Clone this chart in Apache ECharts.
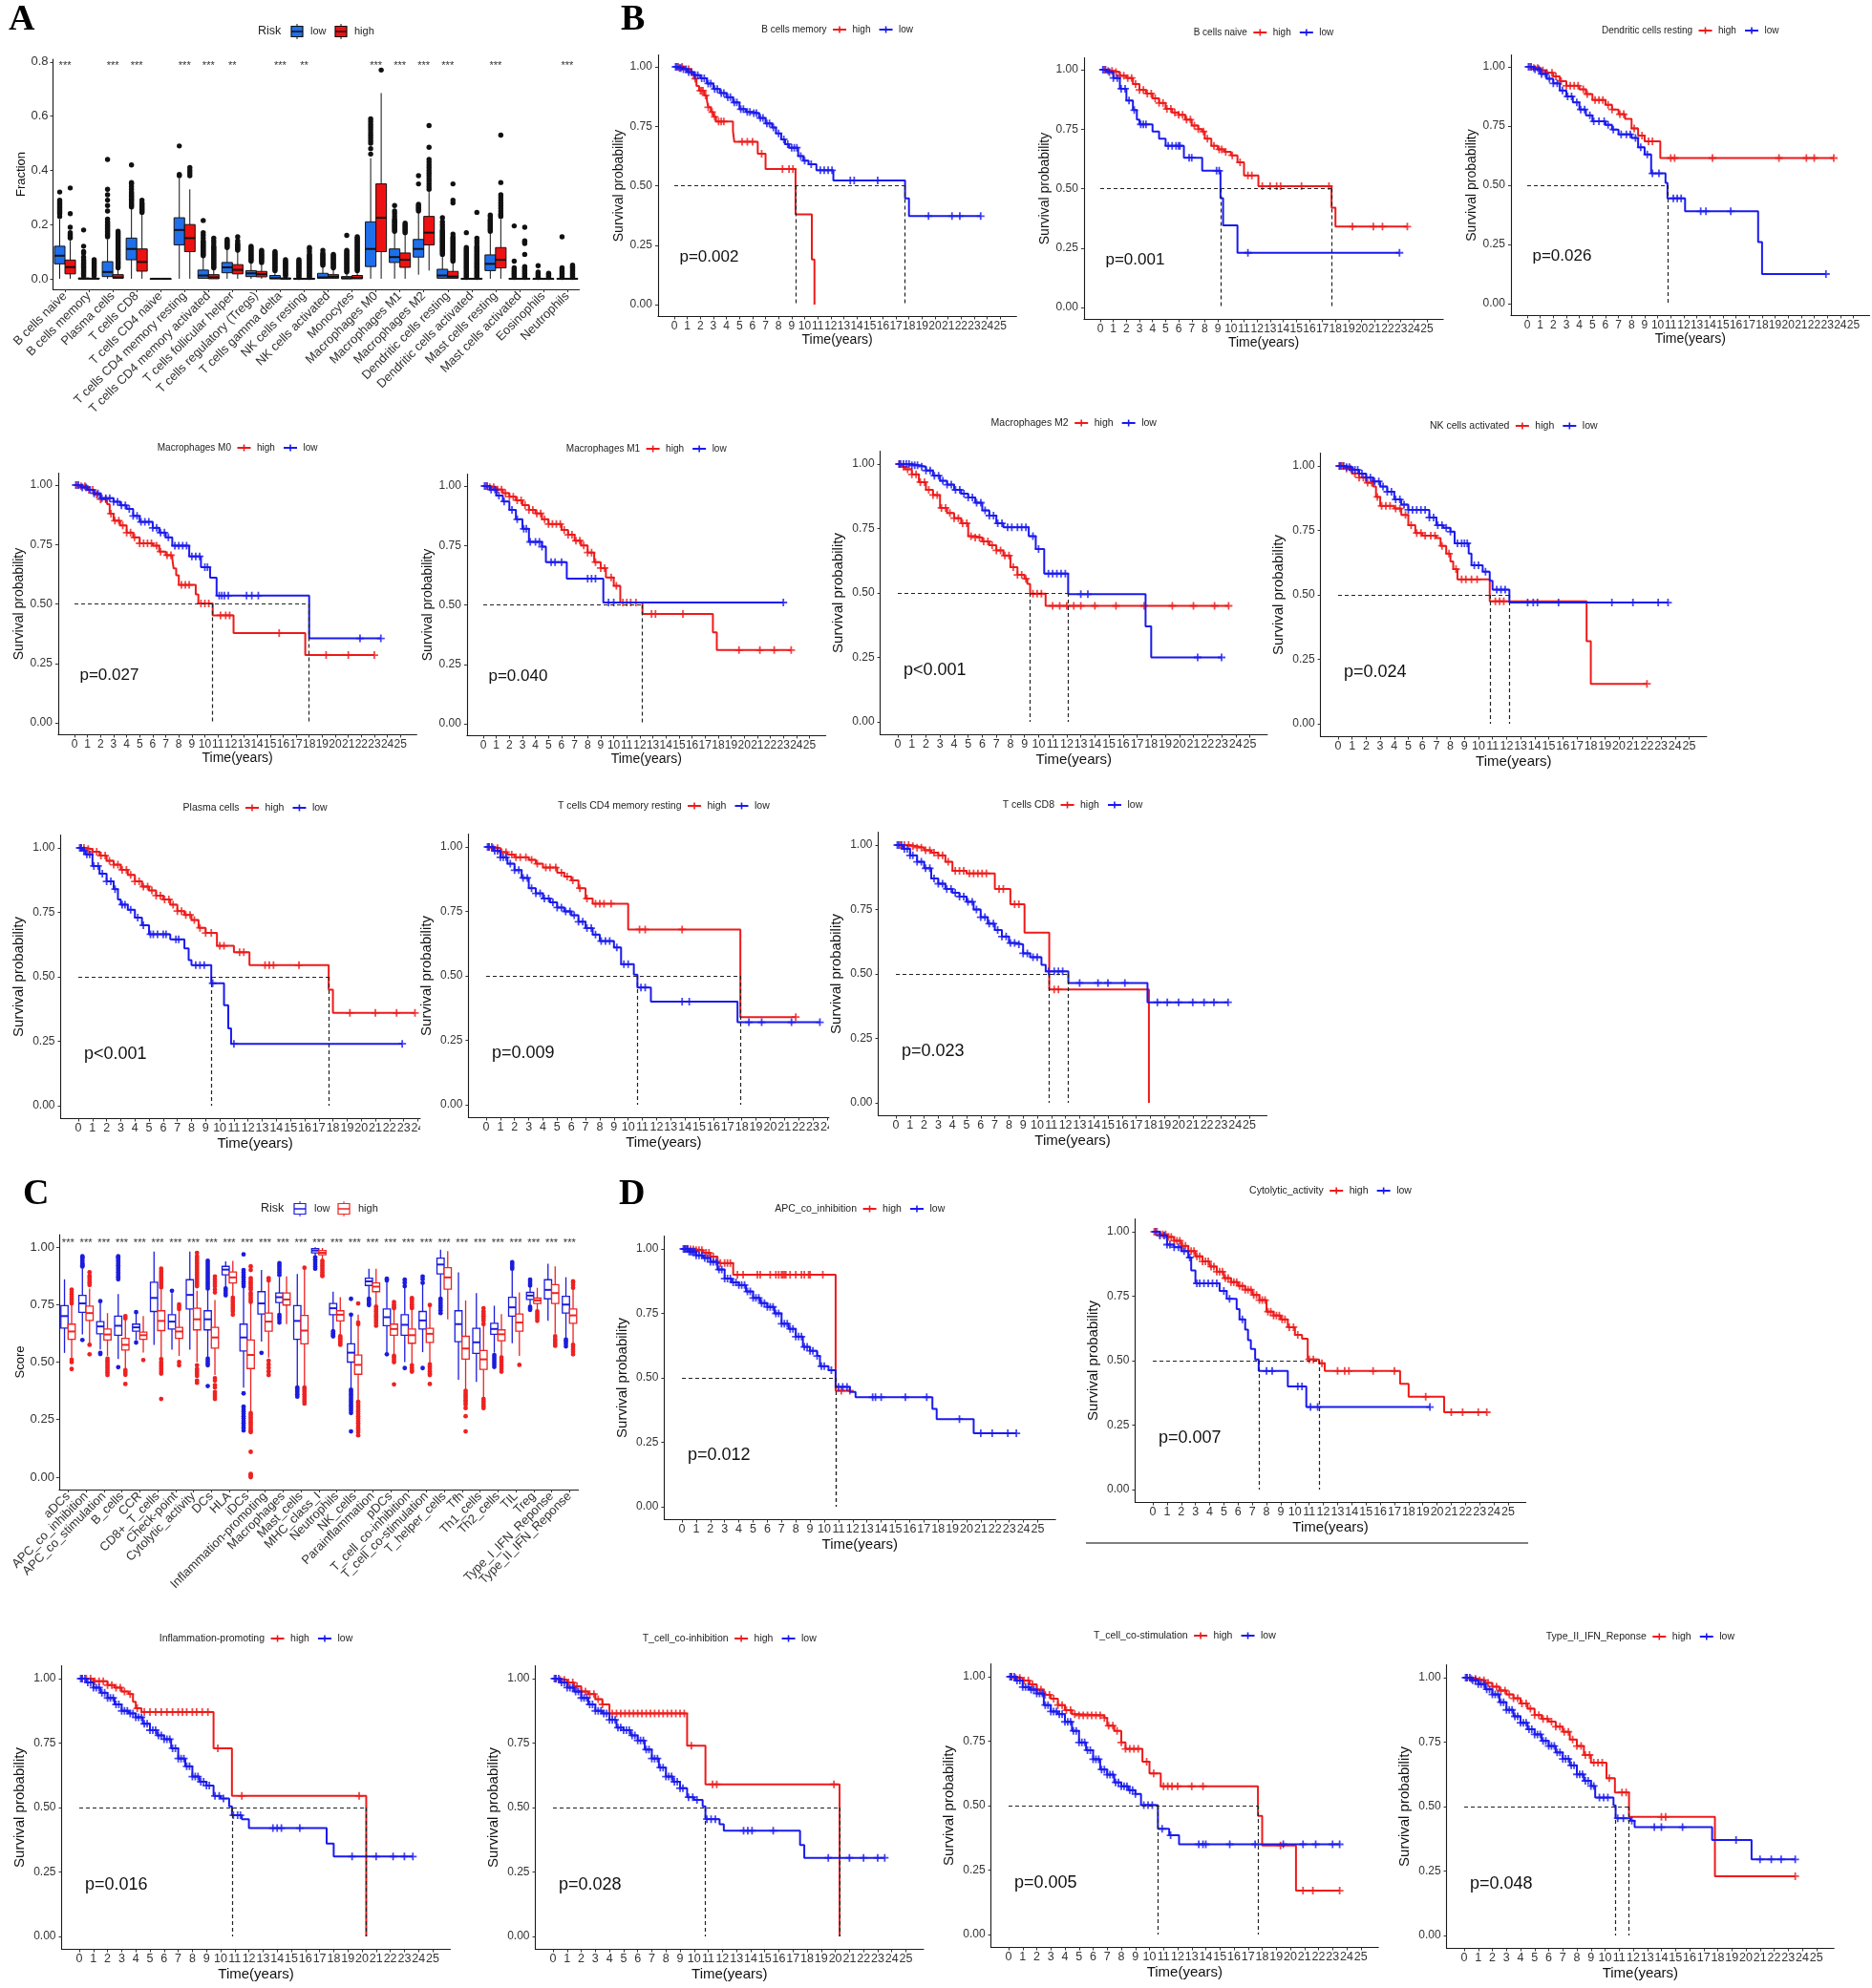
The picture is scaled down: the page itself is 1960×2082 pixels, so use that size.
<!DOCTYPE html>
<html><head><meta charset="utf-8">
<script src="https://cdn.jsdelivr.net/npm/echarts@6.0.0/dist/echarts.min.js"></script>
<style>html,body{margin:0;padding:0;background:#fff}#c{width:1960px;height:2082px}</style>
</head><body><div id="c"></div>
<script>
// ================= DATA =================
// Panel A : immune cell fractions
const cellTypes = ["B cells naive","B cells memory","Plasma cells","T cells CD8","T cells CD4 naive","T cells CD4 memory resting","T cells CD4 memory activated","T cells follicular helper","T cells regulatory (Tregs)","T cells gamma delta","NK cells resting","NK cells activated","Monocytes","Macrophages M0","Macrophages M1","Macrophages M2","Dendritic cells resting","Dendritic cells activated","Mast cells resting","Mast cells activated","Eosinophils","Neutrophils"];
const sigA = ["***","","***","***","","***","***","**","","***","**","","","***","***","***","***","","***","","","***"];
// [min, q1, median, q3, max]
const boxA_low = [[0,0.055,0.085,0.12,0.22],[0,0,0,0.003,0.007],[0,0.008,0.025,0.063,0.145],[0,0.07,0.11,0.15,0.26],[0,0,0,0,0],[0,0.125,0.18,0.225,0.37],[0,0.002,0.012,0.032,0.08],[0,0.022,0.042,0.06,0.11],[0,0.008,0.02,0.03,0.06],[0,0,0.002,0.012,0.028],[0,0,0,0.001,0.003],[0,0.002,0.005,0.02,0.045],[0,0,0.002,0.008,0.02],[0,0.045,0.11,0.21,0.445],[0,0.06,0.08,0.11,0.17],[0.015,0.08,0.11,0.145,0.245],[0,0.002,0.012,0.035,0.085],[0,0,0,0.001,0.003],[0,0.03,0.055,0.088,0.17],[0,0,0,0.001,0.003],[0,0,0,0,0.002],[0,0,0,0.001,0.003]];
const boxA_high = [[0,0.018,0.043,0.069,0.14],[0,0,0,0.002,0.005],[0,0.002,0.005,0.015,0.035],[0,0.028,0.062,0.11,0.24],[0,0,0,0,0],[0,0.1,0.15,0.2,0.33],[0,0,0.005,0.015,0.035],[0,0.018,0.033,0.052,0.1],[0,0.007,0.017,0.027,0.055],[0,0,0,0.003,0.008],[0,0,0,0.001,0.003],[0,0.002,0.007,0.015,0.035],[0,0,0.003,0.012,0.03],[0,0.1,0.225,0.35,0.685],[0,0.042,0.07,0.095,0.165],[0.03,0.125,0.17,0.23,0.32],[0,0.002,0.008,0.027,0.06],[0,0,0,0.001,0.003],[0,0.04,0.07,0.115,0.22],[0,0,0,0.001,0.003],[0,0,0,0,0.002],[0,0,0,0.001,0.003]];
const outA_low = [
[0.23,0.24,0.245,0.25,0.255,0.26,0.265,0.27,0.275,0.28,0.285,0.29,0.32],
[0.01,0.015,0.02,0.025,0.03,0.035,0.04,0.045,0.05,0.055,0.06,0.065,0.07,0.08,0.095,0.1,0.12,0.18],
[0.155,0.16,0.165,0.17,0.175,0.18,0.185,0.19,0.195,0.2,0.205,0.21,0.22,0.25,0.27,0.29,0.31,0.33,0.44],
[0.265,0.27,0.275,0.28,0.285,0.29,0.295,0.3,0.305,0.31,0.315,0.32,0.33,0.34,0.35,0.355,0.42],
[],
[0.38,0.385,0.49],
[0.085,0.09,0.095,0.1,0.105,0.11,0.115,0.12,0.125,0.13,0.135,0.14,0.15,0.16,0.17,0.215],
[0.115,0.12,0.125,0.13,0.135,0.14,0.145],
[0.065,0.07,0.075,0.08,0.085,0.09,0.095,0.1,0.105,0.11,0.115,0.12],
[0.03,0.035,0.04,0.045,0.05,0.055,0.06,0.065,0.07,0.075,0.08,0.085,0.09,0.095,0.1],
[0.005,0.01,0.015,0.02,0.025,0.03,0.035,0.04,0.045,0.05,0.055,0.06,0.065,0.07],
[0.05,0.055,0.06,0.065,0.07,0.075,0.08,0.085,0.09,0.095,0.105],
[0.025,0.03,0.035,0.04,0.045,0.05,0.055,0.06,0.065,0.07,0.075,0.08,0.085,0.09,0.095,0.1,0.105,0.16],
[0.46,0.48,0.5,0.51,0.52,0.53,0.54,0.55,0.56,0.57,0.58,0.59],
[0.175,0.18,0.185,0.19,0.195,0.2,0.205,0.21,0.215,0.22,0.23,0.24,0.25,0.27],
[0.25,0.255,0.26,0.265,0.27,0.275,0.35,0.38],
[0.09,0.095,0.1,0.105,0.11,0.115,0.12,0.125,0.13,0.135,0.14,0.145,0.15,0.155,0.16,0.165,0.17,0.175,0.18,0.19,0.2,0.21,0.225],
[0.005,0.01,0.015,0.02,0.025,0.03,0.035,0.04,0.045,0.05,0.055,0.06,0.065,0.07,0.075,0.08,0.085,0.09,0.095,0.1,0.105,0.11,0.115,0.17],
[0.175,0.18,0.185,0.19,0.195,0.2,0.205,0.21,0.215,0.22,0.23,0.235],
[0.005,0.01,0.015,0.02,0.025,0.03,0.035,0.04,0.065,0.195],
[0.005,0.01,0.015,0.02,0.025,0.048],
[0.005,0.01,0.015,0.02,0.025,0.03,0.035,0.04,0.155]];
const outA_high = [
[0.15,0.155,0.16,0.165,0.17,0.19,0.24,0.335],
[0.01,0.015,0.02,0.025,0.03,0.035,0.04,0.045,0.05,0.055,0.06,0.065,0.07],
[0.04,0.045,0.05,0.055,0.06,0.065,0.07,0.075,0.08,0.085,0.09,0.095,0.1,0.105,0.11,0.115,0.12,0.125,0.13,0.135,0.14,0.145,0.15,0.155,0.16,0.165,0.17,0.175],
[0.245,0.25,0.255,0.26,0.265,0.27,0.275,0.28,0.29],
[],
[0.38,0.39,0.4,0.41],
[0.04,0.045,0.05,0.055,0.06,0.065,0.07,0.075,0.08,0.085,0.09,0.095,0.1,0.105,0.11,0.115,0.12,0.13,0.14,0.15],
[0.105,0.11,0.115,0.12,0.125,0.13,0.14,0.155],
[0.06,0.065,0.07,0.075,0.08,0.085,0.09,0.095,0.1,0.105],
[0.01,0.015,0.02,0.025,0.03,0.035,0.04,0.045,0.05,0.055,0.06,0.065,0.07],
[0.005,0.01,0.015,0.02,0.025,0.03,0.035,0.04,0.045,0.05,0.055,0.06,0.065,0.07,0.075,0.08,0.085,0.09,0.1,0.11,0.115],
[0.04,0.045,0.05,0.055,0.06,0.065,0.07,0.075,0.08,0.085,0.09],
[0.03,0.035,0.04,0.045,0.05,0.055,0.06,0.065,0.07,0.075,0.08,0.085,0.09,0.095,0.1,0.105,0.11,0.115,0.12,0.125,0.13,0.135,0.14,0.145,0.15,0.155],
[0.77],
[0.17,0.175,0.18,0.185,0.19,0.195,0.2,0.205],
[0.33,0.34,0.35,0.36,0.37,0.38,0.39,0.4,0.41,0.42,0.43,0.44,0.485,0.565],
[0.065,0.07,0.075,0.08,0.085,0.09,0.095,0.1,0.105,0.11,0.115,0.12,0.125,0.13,0.135,0.14,0.145,0.15,0.155,0.165,0.28,0.29,0.35],
[0.005,0.01,0.015,0.02,0.025,0.03,0.035,0.04,0.045,0.05,0.055,0.06,0.065,0.07,0.075,0.08,0.085,0.09,0.095,0.1,0.105,0.11,0.115,0.12,0.13,0.14,0.15,0.245],
[0.23,0.235,0.24,0.25,0.26,0.27,0.28,0.29,0.3,0.31,0.355,0.53],
[0.005,0.01,0.015,0.02,0.025,0.03,0.035,0.04,0.045,0.09,0.13,0.135,0.14,0.19],
[0.005,0.01,0.015,0.02],
[0.005,0.01,0.015,0.02,0.025,0.03,0.035,0.04,0.045,0.05]];

// Panel C : immune function scores
const funcTypes = ["aDCs","APC_co_inhibition","APC_co_stimulation","B_cells","CCR","CD8+_T_cells","Check-point","Cytolytic_activity","DCs","HLA","iDCs","Inflammation-promoting","Macrophages","Mast_cells","MHC_class_I","Neutrophils","NK_cells","Parainflammation","pDCs","T_cell_co-inhibition","T_cell_co-stimulation","T_helper_cells","Tfh","Th1_cells","Th2_cells","TIL","Treg","Type_I_IFN_Reponse","Type_II_IFN_Reponse"];
const sigC = ["***","***","***","***","***","***","***","***","***","***","***","***","***","***","***","***","***","***","***","***","***","***","***","***","***","***","***","***","***"];
const boxC_low = [[0.54,0.648,0.70,0.745,0.86],[0.62,0.716,0.755,0.79,0.905],[0.555,0.623,0.655,0.676,0.755],[0.513,0.617,0.658,0.70,0.796],[0.596,0.634,0.651,0.665,0.715],[0.575,0.72,0.779,0.847,0.98],[0.554,0.644,0.676,0.706,0.80],[0.554,0.731,0.792,0.858,0.98],[0.52,0.64,0.686,0.723,0.817],[0.823,0.879,0.902,0.916,0.938],[0.389,0.548,0.607,0.665,0.89],[0.589,0.709,0.755,0.806,0.9],[0.713,0.759,0.782,0.80,0.87],[0.396,0.599,0.679,0.745,0.883],[0.961,0.975,0.985,0.993,0.999],[0.64,0.706,0.734,0.755,0.806],[0.389,0.50,0.541,0.579,0.70],[0.782,0.833,0.851,0.865,0.906],[0.541,0.658,0.695,0.731,0.85],[0.50,0.617,0.662,0.706,0.83],[0.543,0.644,0.681,0.72,0.84],[0.782,0.883,0.924,0.952,0.989],[0.423,0.589,0.665,0.723,0.89],[0.414,0.538,0.586,0.647,0.80],[0.541,0.621,0.644,0.669,0.745],[0.582,0.70,0.738,0.782,0.90],[0.745,0.772,0.789,0.803,0.845],[0.679,0.775,0.814,0.858,0.927],[0.603,0.713,0.75,0.786,0.869]];
const boxC_high = [[0.515,0.599,0.633,0.665,0.75],[0.58,0.681,0.713,0.743,0.82],[0.527,0.596,0.62,0.644,0.713],[0.472,0.552,0.575,0.603,0.69],[0.541,0.599,0.617,0.63,0.70],[0.52,0.637,0.679,0.723,0.817],[0.527,0.603,0.633,0.651,0.74],[0.50,0.64,0.686,0.734,0.81],[0.444,0.561,0.607,0.651,0.77],[0.782,0.844,0.868,0.892,0.94],[0.285,0.472,0.531,0.596,0.76],[0.52,0.634,0.676,0.713,0.85],[0.665,0.748,0.772,0.80,0.872],[0.378,0.579,0.637,0.703,0.91],[0.94,0.966,0.975,0.985,0.996],[0.617,0.679,0.706,0.723,0.782],[0.334,0.447,0.488,0.531,0.706],[0.748,0.806,0.828,0.844,0.906],[0.527,0.617,0.644,0.665,0.76],[0.486,0.582,0.617,0.644,0.77],[0.492,0.586,0.623,0.647,0.745],[0.686,0.817,0.868,0.91,0.982],[0.382,0.513,0.559,0.612,0.768],[0.334,0.468,0.512,0.55,0.73],[0.52,0.593,0.621,0.64,0.709],[0.527,0.634,0.672,0.709,0.803],[0.72,0.755,0.768,0.778,0.823],[0.623,0.755,0.80,0.837,0.916],[0.575,0.669,0.703,0.731,0.837]];
const outC_low = [
[],
[0.96,0.955,0.95,0.94,0.93,0.925,0.92,0.915,0.596],
[0.765,0.54,0.535],
[0.96,0.955,0.95,0.94,0.93,0.92,0.91,0.9,0.89,0.88,0.87,0.86,0.478],
[0.717,0.585],
[],
[0.81],
[],
[0.94,0.93,0.92,0.91,0.9,0.89,0.88,0.87,0.86,0.85,0.84,0.83,0.82,0.515,0.505,0.495,0.486,0.396],
[0.82,0.81,0.8,0.79],
[0.968,0.9,0.89,0.88,0.87,0.86,0.85,0.84,0.83,0.364,0.306,0.295,0.285,0.275,0.265,0.255,0.245,0.235,0.225,0.215,0.203],
[0.54],
[0.93,0.92,0.91,0.9,0.89,0.879,0.705,0.695,0.685,0.672],
[0.389,0.38,0.37,0.36,0.35],
[0.955,0.945,0.935,0.925,0.915,0.906],
[0.634,0.625,0.618,0.612],
[0.775,0.706,0.38,0.37,0.36,0.35,0.34,0.33,0.32,0.31,0.3,0.29,0.279,0.199],
[0.775,0.765,0.755,0.748],
[0.862,0.855,0.534],
[0.858,0.845,0.83,0.474],
[0.872,0.86,0.844,0.474],
[0.775,0.765,0.755,0.745,0.735,0.725,0.713],
[],
[],
[0.53,0.52,0.51,0.5,0.49,0.479],
[0.934,0.925,0.915,0.906],
[0.858,0.85,0.84,0.833,0.74,0.733,0.727],
[],
[0.598,0.59,0.58,0.568]];
const outC_high = [
[0.815,0.805,0.795,0.785,0.775,0.765,0.755,0.51,0.5,0.47],
[0.89,0.875,0.865,0.855,0.845,0.835,0.575,0.534],
[0.515,0.505,0.495,0.485,0.475,0.465,0.455,0.444],
[0.70,0.69,0.465,0.455,0.445,0.405],
[0.509],
[0.906,0.895,0.885,0.875,0.865,0.855,0.845,0.835,0.825,0.513,0.5,0.49,0.48,0.47,0.46,0.45,0.34],
[0.75,0.74,0.73,0.5,0.486],
[0.975,0.96,0.95,0.94,0.93,0.92,0.91,0.9,0.89,0.88,0.87,0.86,0.85,0.84,0.83,0.486,0.47,0.46,0.45,0.44,0.42,0.41],
[0.872,0.86,0.85,0.84,0.83,0.815,0.803,0.43,0.42,0.4,0.39,0.37,0.36,0.35,0.34],
[0.78,0.77,0.76,0.75,0.74,0.73,0.72,0.706],
[0.916,0.9,0.865,0.855,0.845,0.835,0.825,0.815,0.8,0.79,0.78,0.77,0.761,0.278,0.27,0.26,0.25,0.24,0.23,0.22,0.21,0.2,0.196,0.11,0.014,0.01,0.005,0],
[0.865,0.855,0.506,0.49,0.475,0.46,0.444],
[],
[0.91,0.389,0.38,0.37,0.36,0.35,0.34,0.33,0.32],
[0.94,0.93,0.92,0.91,0.9,0.89,0.88,0.874],
[0.612,0.605,0.598,0.59,0.583,0.575],
[0.755,0.672,0.665,0.327,0.315,0.305,0.295,0.285,0.275,0.265,0.255,0.245,0.235,0.225,0.215,0.205,0.195,0.182],
[0.741,0.73,0.72,0.71,0.7,0.69,0.68,0.67,0.658],
[0.761,0.75,0.74,0.734,0.527,0.52,0.51,0.5,0.403],
[0.778,0.77,0.76,0.75,0.74,0.734,0.486,0.475,0.465,0.458],
[0.748,0.49,0.48,0.47,0.46,0.45,0.444,0.405],
[],
[0.375,0.365,0.355,0.345,0.335,0.325,0.315,0.3,0.265,0.199],
[0.734,0.72,0.71,0.7,0.69,0.68,0.665,0.34,0.33,0.32,0.31,0.3],
[0.52,0.51,0.5,0.49,0.48,0.47,0.458],
[0.488],
[0.72,0.71,0.7,0.69,0.679],
[0.612,0.6,0.59,0.58,0.571],
[0.851,0.845,0.835,0.823,0.575,0.565,0.555,0.545,0.534]];

// Kaplan-Meier curves: steps [time, survival], censor times
const kmTicks = [0,1,2,3,4,5,6,7,8,9,10,11,12,13,14,15,16,17,18,19,20,21,22,23,24,25];
const kmYTicks = [0,0.25,0.5,0.75,1];

const bMemHigh = [[0,1],[0.8,0.99],[1.3,0.97],[1.5,0.95],[1.7,0.92],[1.9,0.9],[2.3,0.88],[2.5,0.86],[2.6,0.83],[2.8,0.81],[3.0,0.79],[3.2,0.77],[4.5,0.73],[4.6,0.685],[6.4,0.635],[7.0,0.57],[9.3,0.38],[10.55,0.19],[10.75,0]];
const bMemHighCens = [0.3,0.6,1.1,1.6,2.0,2.1,2.2,2.4,2.6,2.9,3.1,3.4,3.6,3.8,5.2,5.6,6.0,6.7,8.3,8.8,9.1];
const bMemLow = [[0,1],[0.3,0.995],[0.6,0.99],[1,0.978],[1.5,0.965],[2,0.952],[2.5,0.93],[3,0.907],[3.5,0.89],[4,0.872],[4.5,0.85],[5,0.822],[5.5,0.81],[6,0.805],[6.5,0.785],[7,0.762],[7.5,0.745],[7.8,0.72],[8.2,0.695],[8.5,0.675],[8.8,0.66],[9.5,0.625],[9.9,0.605],[10.3,0.59],[10.9,0.565],[12.2,0.522],[17.7,0.447],[18.0,0.372],[23.5,0.372]];
const bMemLowCens = [0.1,0.2,0.4,0.5,0.7,0.9,1.1,1.3,1.6,1.8,2.1,2.3,2.6,2.8,3.1,3.3,3.6,3.8,4.1,4.3,4.6,4.8,5.1,5.3,5.6,5.8,6.1,6.3,6.6,6.8,7.1,7.3,7.6,8.0,8.4,8.7,9.0,9.2,9.4,9.7,10.0,10.5,11.2,11.5,11.8,12.1,13.5,13.8,15.6,19.5,21.3,21.9,23.5];

const bNaiveHigh = [[0,1],[0.5,0.995],[1,0.99],[1.5,0.975],[2,0.965],[2.5,0.94],[3,0.915],[3.5,0.9],[4,0.88],[4.5,0.86],[5,0.835],[5.5,0.82],[6,0.81],[6.5,0.79],[7,0.765],[7.5,0.75],[7.8,0.74],[8,0.71],[8.5,0.68],[9,0.665],[9.5,0.655],[10,0.64],[10.5,0.61],[11,0.555],[12.1,0.51],[17.7,0.42],[18.0,0.34],[23.5,0.34]];
const bNaiveHighCens = [0.3,0.6,0.9,1.2,1.5,1.8,2.1,2.4,2.7,3.0,3.3,3.6,3.9,4.2,4.5,4.8,5.1,5.4,5.7,6.0,6.3,6.6,6.9,7.2,7.5,7.9,8.2,8.7,9.1,9.3,9.6,10.1,10.7,11.3,11.6,12.4,13.0,13.5,13.8,15.4,17.5,19.3,20.9,21.6,23.5];
const bNaiveLow = [[0,1],[0.5,0.99],[1,0.965],[1.5,0.92],[2,0.87],[2.5,0.83],[2.8,0.79],[3,0.77],[4,0.74],[4.5,0.71],[5,0.68],[6.4,0.63],[7.8,0.575],[9.2,0.46],[9.4,0.345],[10.5,0.23],[22.9,0.23]];
const bNaiveLowCens = [0.2,0.4,0.7,1.0,1.3,1.6,1.9,2.2,2.6,3.1,3.3,3.5,5.2,5.5,5.8,6.0,6.1,6.8,7.0,8.9,9.1,11.3,22.9];

const dcRestHigh = [[0,1],[0.5,0.995],[1,0.985],[1.5,0.975],[2,0.96],[2.5,0.94],[3,0.92],[4,0.905],[4.5,0.885],[5,0.86],[6,0.84],[6.5,0.82],[7,0.8],[7.5,0.78],[8,0.74],[8.5,0.71],[9,0.685],[10.2,0.615],[23.5,0.615]];
const dcRestHighCens = [0.2,0.5,0.8,1.2,1.5,1.9,2.2,2.6,3.0,3.3,3.6,3.9,4.3,4.6,5.2,5.5,5.8,6.2,6.5,7.1,7.4,8.2,8.8,9.3,9.6,11.0,11.3,14.2,19.3,21.4,22.0,23.5];
const dcRestLow = [[0,1],[0.5,0.99],[1,0.97],[1.5,0.95],[2,0.93],[2.5,0.9],[3,0.875],[3.5,0.85],[4,0.82],[4.5,0.795],[5,0.77],[6,0.755],[6.5,0.735],[7,0.715],[8,0.7],[8.5,0.66],[9,0.63],[9.5,0.55],[10.6,0.51],[10.75,0.445],[12.1,0.39],[17.7,0.26],[18.0,0.125],[22.9,0.125]];
const dcRestLowCens = [0.1,0.3,0.6,0.9,1.1,1.4,1.7,2.0,2.3,2.7,3.1,3.4,3.8,4.1,4.4,4.8,5.1,5.5,5.9,6.2,6.6,7.2,7.6,7.9,8.3,8.7,9.2,9.6,10.1,11.2,11.5,11.8,13.3,13.7,15.6,22.9];

const m0High = [[0,1],[0.5,0.995],[1,0.98],[1.5,0.96],[2,0.94],[2.5,0.92],[2.7,0.88],[3,0.85],[3.5,0.83],[4,0.8],[4.5,0.78],[5,0.755],[6,0.745],[6.5,0.72],[7,0.705],[7.5,0.69],[7.6,0.65],[7.8,0.62],[8,0.58],[9.3,0.54],[9.5,0.502],[10.6,0.452],[12.2,0.378],[17.7,0.285],[23.0,0.285]];
const m0HighCens = [0.2,0.5,0.8,1.1,1.4,1.7,2.0,2.4,2.8,3.1,3.4,3.7,4.0,4.3,4.6,5.0,5.3,5.6,5.9,6.3,6.6,7.1,7.4,8.2,8.5,8.8,9.7,10.0,10.3,11.2,11.6,11.9,15.7,19.3,21.0,23.0];
const m0Low = [[0,1],[0.5,0.99],[1,0.98],[1.5,0.965],[2,0.945],[3,0.93],[3.5,0.915],[4,0.9],[4.5,0.87],[5,0.845],[6,0.82],[6.5,0.8],[7,0.78],[7.5,0.745],[8.8,0.7],[9.7,0.655],[10.4,0.61],[10.9,0.535],[18.0,0.355],[23.5,0.355]];
const m0LowCens = [0.1,0.3,0.6,0.9,1.2,1.5,1.8,2.1,2.4,2.7,3.0,3.3,3.6,3.9,4.2,4.5,4.8,5.1,5.4,5.7,6.0,6.3,6.6,6.9,7.2,7.7,8.0,8.3,8.6,9.0,9.3,9.6,10.0,10.2,11.1,11.3,11.5,11.8,13.2,13.6,14.1,21.9,23.5];

const m1High = [[0,1],[0.5,0.995],[1,0.985],[1.5,0.97],[2,0.955],[2.5,0.94],[3,0.92],[3.5,0.9],[4,0.885],[4.5,0.86],[5,0.84],[6,0.815],[6.5,0.795],[7,0.77],[7.5,0.75],[8,0.72],[8.5,0.68],[9,0.655],[9.4,0.615],[10,0.58],[10.5,0.51],[12.2,0.462],[17.6,0.385],[17.9,0.31],[23.6,0.31]];
const m1HighCens = [0.2,0.5,0.8,1.1,1.4,1.7,2.0,2.3,2.6,2.9,3.2,3.5,3.8,4.1,4.4,4.7,5.0,5.3,5.6,5.9,6.2,6.5,6.8,7.1,7.4,7.7,8.0,8.3,8.6,9.0,9.3,9.8,10.2,10.7,11.0,11.3,11.7,12.9,13.2,15.3,19.6,21.2,22.3,23.6];
const m1Low = [[0,1],[0.5,0.985],[1,0.96],[1.5,0.935],[2,0.9],[2.5,0.86],[3,0.82],[3.5,0.765],[4.5,0.745],[4.8,0.68],[6.4,0.61],[9.2,0.51],[23.0,0.51]];
const m1LowCens = [0.1,0.3,0.6,0.9,1.2,1.6,2.2,2.6,3.1,3.3,3.6,4.0,4.3,4.5,5.2,5.5,6.0,8.0,8.3,8.6,9.6,10.0,23.0];

const m2High = [[0,1],[0.3,0.99],[0.5,0.98],[1,0.96],[1.5,0.93],[2,0.9],[2.5,0.88],[3,0.83],[3.5,0.81],[4,0.79],[4.5,0.77],[5,0.72],[5.5,0.715],[6,0.7],[6.5,0.685],[7,0.665],[7.5,0.645],[8,0.6],[8.5,0.57],[9,0.555],[9.2,0.535],[9.4,0.497],[10.5,0.45],[23.5,0.45]];
const m2HighCens = [0.1,0.4,0.7,1.0,1.3,1.6,1.9,2.2,2.5,2.8,3.1,3.4,3.7,4.0,4.3,4.6,4.9,5.2,5.5,5.8,6.1,6.4,6.7,7.0,7.3,7.6,7.9,8.2,8.5,8.8,9.1,9.6,9.9,10.2,11.0,11.5,12.0,12.5,13.0,14.0,15.5,17.5,19.5,21.0,22.5,23.5];
const m2Low = [[0,1],[1,0.995],[1.5,0.99],[2,0.975],[2.5,0.955],[3,0.935],[3.5,0.92],[4,0.9],[4.5,0.885],[5,0.87],[5.5,0.85],[6,0.82],[6.5,0.8],[7,0.77],[7.5,0.755],[9.3,0.72],[9.8,0.67],[10.4,0.575],[12.1,0.495],[17.6,0.37],[18.0,0.25],[23.0,0.25]];
const m2LowCens = [0.1,0.2,0.4,0.6,0.8,1.0,1.2,1.4,1.7,2.0,2.3,2.6,2.9,3.2,3.5,3.8,4.1,4.4,4.7,5.0,5.3,5.6,5.9,6.2,6.5,6.8,7.1,7.4,7.8,8.1,8.5,8.8,9.1,9.6,10.0,10.7,11.0,11.3,11.6,11.9,13.0,13.5,21.3,23.0];

const nkHigh = [[0,1],[0.5,0.99],[1,0.97],[1.5,0.955],[2,0.935],[2.5,0.92],[2.7,0.88],[3,0.845],[4,0.835],[4.5,0.81],[5,0.77],[5.5,0.74],[6,0.73],[7,0.72],[7.3,0.69],[7.7,0.66],[8,0.63],[8.2,0.6],[8.5,0.56],[10.8,0.475],[17.7,0.32],[18.0,0.155],[22.0,0.155]];
const nkHighCens = [0.1,0.3,0.6,0.9,1.2,1.5,1.8,2.1,2.4,2.8,3.1,3.4,3.7,4.1,4.4,4.8,5.2,5.6,5.9,6.2,6.6,6.9,7.4,7.9,8.4,8.8,9.1,9.5,9.9,11.2,11.5,11.8,22.0];
const nkLow = [[0,1],[0.5,0.995],[1,0.985],[1.5,0.97],[2,0.955],[2.5,0.94],[3,0.92],[3.5,0.9],[4,0.87],[4.5,0.85],[5,0.83],[6,0.83],[6.5,0.8],[7,0.77],[7.5,0.76],[8,0.745],[8.3,0.7],[9.3,0.66],[9.5,0.615],[10.3,0.59],[10.8,0.555],[11,0.52],[12.2,0.47],[23.5,0.47]];
const nkLowCens = [0.1,0.2,0.4,0.6,0.8,1.0,1.2,1.4,1.7,2.0,2.3,2.6,2.9,3.2,3.5,3.8,4.1,4.4,4.7,5.0,5.3,5.6,5.9,6.2,6.5,6.8,7.1,7.4,7.7,8.0,8.5,8.8,9.0,9.2,9.7,10.0,10.5,11.3,11.6,11.9,13.5,13.9,14.2,15.7,19.5,21.0,22.8,23.5];

const plasmaHigh = [[0,1],[0.5,0.995],[1,0.985],[1.5,0.97],[2,0.95],[2.5,0.935],[3,0.915],[3.5,0.895],[4,0.87],[4.5,0.85],[5,0.835],[5.5,0.815],[6,0.8],[6.5,0.78],[7,0.755],[7.5,0.74],[8,0.72],[8.5,0.69],[9,0.67],[9.8,0.62],[11,0.595],[12.1,0.545],[17.7,0.45],[18.0,0.36],[23.8,0.36]];
const plasmaHighCens = [0.2,0.4,0.7,1.0,1.3,1.6,1.9,2.2,2.5,2.8,3.1,3.4,3.7,4.0,4.3,4.6,4.9,5.2,5.5,5.8,6.1,6.4,6.7,7.0,7.3,7.6,7.9,8.2,8.6,9.0,9.4,10.0,10.3,11.4,11.7,13.2,13.5,13.8,15.6,19.2,21.0,22.5,23.8];
const plasmaLow = [[0,1],[0.3,0.99],[0.5,0.975],[1,0.93],[1.5,0.9],[2,0.87],[2.5,0.84],[2.8,0.8],[3,0.78],[3.5,0.76],[4,0.73],[4.5,0.7],[5,0.665],[6.5,0.645],[7.5,0.61],[7.8,0.565],[8,0.545],[9.4,0.475],[10.3,0.39],[10.6,0.3],[10.8,0.24],[22.9,0.24]];
const plasmaLowCens = [0.1,0.2,0.4,0.6,0.8,1.1,1.4,1.7,2.0,2.3,2.6,3.1,3.3,3.7,4.2,4.6,5.1,5.3,5.6,6.0,6.2,6.9,7.1,8.3,8.6,8.9,9.5,11.0,22.9];

const cd4High = [[0,1],[0.5,0.995],[1,0.98],[1.5,0.97],[2,0.96],[3,0.95],[3.5,0.935],[4,0.92],[5,0.9],[5.5,0.885],[6,0.87],[6.5,0.84],[7,0.8],[7.5,0.78],[10,0.68],[17.9,0.34],[21.8,0.34]];
const cd4HighCens = [0.2,0.5,0.8,1.1,1.4,1.8,2.1,2.4,2.8,3.2,3.6,4.2,4.5,4.9,5.3,5.7,6.1,6.6,7.1,7.7,8.0,8.3,8.8,10.8,11.2,13.8,21.8];
const cd4Low = [[0,1],[0.5,0.985],[1,0.96],[1.5,0.935],[2,0.91],[2.5,0.88],[3,0.84],[3.5,0.82],[4,0.8],[4.5,0.785],[5,0.765],[5.5,0.75],[6,0.735],[6.5,0.71],[7,0.685],[7.5,0.66],[8,0.635],[9,0.61],[9.5,0.545],[10.4,0.505],[10.65,0.455],[11.6,0.4],[17.7,0.32],[23.5,0.32]];
const cd4LowCens = [0.1,0.2,0.4,0.6,0.8,1.0,1.2,1.4,1.7,2.0,2.3,2.6,2.9,3.2,3.5,3.8,4.1,4.4,4.7,5.0,5.3,5.6,5.9,6.2,6.5,6.8,7.1,7.4,7.7,8.1,8.4,8.7,9.2,9.7,10.0,10.9,11.2,13.8,14.3,18.5,19.4,21.5,23.5];

const cd8High = [[0,1],[1,0.995],[1.5,0.99],[2,0.98],[2.5,0.97],[3,0.96],[3.5,0.935],[4,0.9],[5,0.89],[7,0.83],[8.1,0.77],[9.1,0.66],[10.85,0.44],[17.9,0]];
const cd8HighCens = [0.3,0.6,0.9,1.2,1.5,1.8,2.1,2.4,2.7,3.0,3.3,3.7,4.2,4.5,4.8,5.2,5.5,5.8,6.1,6.4,7.3,7.6,8.4,8.7,11.2,11.5];
const cd8Low = [[0,1],[0.5,0.985],[1,0.96],[1.5,0.935],[2,0.91],[2.5,0.87],[3,0.85],[3.5,0.83],[4,0.815],[4.5,0.8],[5,0.78],[5.5,0.75],[6,0.72],[6.5,0.695],[7,0.67],[7.5,0.645],[8,0.62],[8.5,0.615],[9,0.58],[9.5,0.565],[10.3,0.535],[10.6,0.51],[12.2,0.465],[17.8,0.39],[23.5,0.39]];
const cd8LowCens = [0.1,0.2,0.4,0.6,0.8,1.0,1.2,1.5,1.8,2.1,2.4,2.7,3.0,3.3,3.6,3.9,4.2,4.5,4.8,5.1,5.4,5.7,6.0,6.3,6.6,6.9,7.2,7.5,7.8,8.1,8.4,8.7,9.0,9.3,9.7,10.0,10.8,11.2,11.5,11.8,13.0,14.3,15.0,16.2,18.5,19.2,20.0,21.0,21.8,22.5,23.5];

const apcHigh = [[0,1],[0.5,0.998],[1,0.995],[1.5,0.985],[2,0.97],[2.5,0.945],[3.6,0.9],[10.8,0.45],[11.8,0.45]];
const apcHighCens = [0.2,0.4,0.6,0.8,1.0,1.2,1.4,1.7,1.9,2.2,2.7,3.0,3.2,3.4,3.9,4.3,5.3,5.5,6.2,6.6,6.8,7.0,7.1,7.2,7.3,7.6,8.0,8.4,8.6,8.9,9.0,9.9,11.2,11.8];
const apcLow = [[0,1],[0.5,0.99],[1,0.975],[1.5,0.965],[2,0.95],[2.5,0.92],[3,0.885],[3.5,0.87],[4,0.86],[4.5,0.835],[5,0.81],[5.5,0.79],[6,0.775],[6.5,0.75],[7,0.71],[7.5,0.69],[8,0.66],[8.5,0.62],[9,0.605],[9.5,0.585],[9.7,0.545],[10.3,0.53],[10.8,0.465],[11.8,0.445],[12.2,0.425],[17.6,0.38],[17.9,0.34],[20.5,0.285],[23.5,0.285]];
const apcLowCens = [0.1,0.2,0.3,0.4,0.5,0.6,0.7,0.8,0.9,1.0,1.2,1.4,1.6,1.8,2.0,2.2,2.4,2.6,2.8,3.0,3.2,3.4,3.6,3.8,4.0,4.2,4.4,4.6,4.8,5.0,5.2,5.4,5.6,5.8,6.0,6.2,6.4,6.6,6.8,7.0,7.2,7.4,7.6,7.8,8.0,8.2,8.4,8.6,8.8,9.0,9.2,9.5,9.8,10.0,10.5,11.0,11.3,11.6,13.4,13.6,14.0,15.7,17.2,19.5,21.0,21.8,22.9,23.5];

const cytoHigh = [[0,1],[0.5,0.99],[1,0.98],[1.5,0.965],[2,0.945],[2.5,0.925],[3,0.905],[3.5,0.885],[4,0.865],[4.5,0.845],[5,0.82],[5.5,0.805],[6,0.79],[6.5,0.775],[7,0.755],[7.5,0.735],[8,0.69],[8.5,0.675],[9,0.66],[9.5,0.63],[10,0.6],[10.5,0.585],[10.9,0.505],[11.7,0.49],[12.1,0.46],[17.4,0.41],[18.0,0.36],[20.5,0.3],[23.5,0.3]];
const cytoHighCens = [0.1,0.3,0.5,0.7,0.9,1.1,1.3,1.5,1.7,1.9,2.1,2.3,2.5,2.7,2.9,3.1,3.3,3.5,3.7,3.9,4.1,4.3,4.5,4.7,4.9,5.1,5.3,5.5,5.7,5.9,6.1,6.3,6.5,6.7,6.9,7.1,7.3,7.5,7.7,7.9,8.1,8.3,8.5,8.7,8.9,9.1,9.3,9.6,9.9,10.2,11.0,11.3,11.9,13.0,13.5,13.8,15.5,17.0,19.2,21.0,21.8,22.9,23.5];
const cytoLow = [[0,1],[0.5,0.985],[1,0.95],[1.5,0.94],[2,0.925],[2.5,0.9],[2.7,0.85],[3,0.8],[4.7,0.77],[5.2,0.74],[5.9,0.7],[6.1,0.66],[6.5,0.62],[6.7,0.58],[6.9,0.545],[7.2,0.505],[7.45,0.46],[9.5,0.4],[10.8,0.32],[19.5,0.32]];
const cytoLowCens = [0.2,0.5,0.8,1.0,1.2,1.5,1.8,2.2,2.6,3.1,3.3,3.6,3.9,4.2,4.5,5.0,5.4,6.3,8.0,8.4,10.2,10.5,11.1,11.6,19.5];

const inflHigh = [[0,1],[1,0.99],[2,0.975],[2.5,0.965],[3,0.95],[3.5,0.94],[3.8,0.91],[4,0.885],[4.4,0.87],[9.5,0.73],[10.8,0.545],[20.3,0]];
const inflHighCens = [0.2,0.5,0.8,1.1,1.4,1.7,2.0,2.3,2.6,2.9,3.2,3.6,4.1,4.6,5.0,5.4,5.8,6.2,6.6,7.0,7.3,7.6,8.0,8.3,8.7,9.1,9.8,11.5,19.8];
const inflLow = [[0,1],[0.5,0.985],[1,0.965],[1.5,0.945],[2,0.925],[2.5,0.9],[3,0.875],[3.5,0.865],[4,0.85],[4.5,0.825],[5,0.8],[5.5,0.78],[6,0.765],[6.5,0.73],[7,0.69],[7.5,0.66],[8,0.62],[8.5,0.6],[9,0.585],[9.5,0.545],[10,0.535],[10.6,0.505],[10.8,0.47],[11.5,0.455],[12,0.42],[17.5,0.36],[18.0,0.31],[23.6,0.31]];
const inflLowCens = [0.1,0.2,0.4,0.6,0.8,1.0,1.2,1.4,1.6,1.8,2.0,2.2,2.4,2.6,2.8,3.0,3.2,3.4,3.6,3.8,4.0,4.2,4.4,4.6,4.8,5.0,5.2,5.4,5.6,5.8,6.0,6.2,6.4,6.6,6.8,7.0,7.2,7.4,7.6,7.8,8.0,8.2,8.4,8.6,8.8,9.0,9.2,9.6,9.9,10.2,10.9,11.2,11.4,13.7,14.0,14.3,15.6,19.3,21.0,22.2,23.0,23.6];

const tcoinhHigh = [[0,1],[0.5,0.995],[1,0.985],[1.5,0.97],[2,0.95],[2.5,0.94],[3,0.92],[3.5,0.9],[4,0.865],[9.5,0.74],[10.8,0.59],[20.3,0]];
const tcoinhHighCens = [0.2,0.5,0.8,1.1,1.4,1.7,2.0,2.3,2.6,2.9,3.2,3.5,4.2,4.5,4.8,5.1,5.4,5.7,6.0,6.3,6.6,6.9,7.2,7.5,7.8,8.1,8.4,8.7,9.0,9.3,9.8,11.3,11.6,19.9];
const tcoinhLow = [[0,1],[0.5,0.985],[1,0.965],[1.5,0.95],[2,0.925],[2.5,0.9],[3,0.875],[3.5,0.865],[4,0.84],[4.5,0.81],[5,0.8],[5.5,0.78],[6,0.76],[6.5,0.725],[7,0.69],[7.5,0.655],[8,0.62],[8.5,0.6],[9,0.575],[9.5,0.54],[10,0.53],[10.6,0.505],[10.8,0.455],[11.8,0.435],[12.1,0.41],[17.5,0.355],[17.8,0.305],[23.5,0.305]];
const tcoinhLowCens = [0.1,0.2,0.4,0.6,0.8,1.0,1.2,1.4,1.6,1.8,2.0,2.2,2.4,2.6,2.8,3.0,3.2,3.4,3.6,3.8,4.0,4.2,4.4,4.6,4.8,5.0,5.2,5.4,5.6,5.8,6.0,6.2,6.4,6.6,6.8,7.0,7.2,7.4,7.6,7.8,8.0,8.2,8.4,8.6,8.8,9.0,9.2,9.6,9.9,10.2,10.9,11.2,11.5,13.5,13.8,14.1,15.6,19.5,21.0,22.0,23.0,23.5];

const tcostimHigh = [[0,1],[0.5,0.995],[1,0.985],[1.5,0.97],[2,0.95],[2.5,0.93],[3,0.915],[3.5,0.89],[4,0.87],[4.5,0.855],[5,0.85],[6.8,0.84],[7,0.81],[7.5,0.79],[8,0.745],[8.3,0.72],[9.5,0.67],[10,0.625],[10.8,0.575],[17.7,0.46],[18.0,0.345],[20.4,0.17],[23.5,0.17]];
const tcostimHighCens = [0.2,0.5,0.8,1.1,1.4,1.7,2.0,2.3,2.6,2.9,3.2,3.5,3.8,4.1,4.4,4.7,5.0,5.3,5.6,5.9,6.2,6.5,6.8,7.1,7.4,7.7,8.0,8.3,8.6,8.9,9.2,9.8,10.3,11.0,11.3,11.6,12.0,13.0,13.8,19.3,20.9,21.6,23.5];
const tcostimLow = [[0,1],[0.5,0.985],[1,0.96],[1.5,0.95],[2,0.935],[2.5,0.89],[3,0.865],[3.5,0.855],[4,0.825],[4.5,0.79],[5,0.745],[5.5,0.715],[6,0.68],[6.5,0.64],[7,0.62],[7.5,0.59],[8,0.575],[8.5,0.56],[9,0.545],[9.4,0.502],[10.6,0.41],[11.4,0.385],[12.1,0.35],[23.5,0.35]];
const tcostimLowCens = [0.1,0.2,0.4,0.6,0.8,1.0,1.2,1.4,1.6,1.8,2.0,2.2,2.4,2.6,2.8,3.0,3.2,3.4,3.6,3.8,4.0,4.2,4.4,4.6,4.8,5.0,5.2,5.4,5.6,5.8,6.0,6.2,6.4,6.6,6.8,7.0,7.2,7.4,7.6,7.8,8.0,8.2,8.4,8.6,8.8,9.0,9.6,9.9,10.2,10.9,11.5,13.5,13.8,14.0,15.7,17.5,19.5,20.9,21.8,23.0,23.5];

const type2High = [[0,1],[0.5,0.995],[1,0.99],[1.5,0.98],[2,0.965],[2.5,0.95],[3,0.935],[3.5,0.92],[4,0.9],[4.5,0.88],[5,0.855],[5.5,0.84],[6,0.83],[6.5,0.81],[7,0.79],[7.5,0.76],[8,0.735],[8.5,0.7],[9,0.67],[10.1,0.61],[10.7,0.555],[11.7,0.46],[17.8,0.23],[23.5,0.23]];
const type2HighCens = [0.2,0.5,0.8,1.1,1.4,1.7,2.0,2.3,2.6,2.9,3.2,3.5,3.8,4.1,4.4,4.7,5.0,5.3,5.6,5.9,6.2,6.5,6.8,7.1,7.4,7.7,8.0,8.3,8.6,8.9,9.2,9.5,9.8,10.3,11.2,11.5,14.0,14.3,23.5];
const type2Low = [[0,1],[0.5,0.99],[1,0.975],[1.5,0.955],[2,0.935],[2.5,0.905],[3,0.875],[3.5,0.85],[4,0.825],[4.5,0.8],[5,0.78],[5.5,0.755],[6,0.735],[6.5,0.71],[7,0.685],[7.5,0.66],[8,0.625],[8.5,0.6],[9,0.58],[9.3,0.535],[10.6,0.505],[10.75,0.455],[11.8,0.445],[12.1,0.42],[17.6,0.37],[20.4,0.295],[23.5,0.295]];
const type2LowCens = [0.1,0.2,0.4,0.6,0.8,1.0,1.2,1.4,1.6,1.8,2.0,2.2,2.4,2.6,2.8,3.0,3.2,3.4,3.6,3.8,4.0,4.2,4.4,4.6,4.8,5.0,5.2,5.4,5.6,5.8,6.0,6.2,6.4,6.6,6.8,7.0,7.2,7.4,7.6,7.8,8.0,8.2,8.4,8.6,8.8,9.0,9.2,9.6,9.9,10.2,10.9,11.3,11.9,13.5,14.0,15.5,19.3,21.0,21.8,22.5,23.5];

// KM panel list (titles / p-values / which arrays)
const kmPlots = [
 {id:'bMem', title:'B cells memory', p:'p=0.002', high:bMemHigh, highC:bMemHighCens, low:bMemLow, lowC:bMemLowCens},
 {id:'bNaive', title:'B cells naive', p:'p=0.001', high:bNaiveHigh, highC:bNaiveHighCens, low:bNaiveLow, lowC:bNaiveLowCens},
 {id:'dcRest', title:'Dendritic cells resting', p:'p=0.026', high:dcRestHigh, highC:dcRestHighCens, low:dcRestLow, lowC:dcRestLowCens},
 {id:'m0', title:'Macrophages M0', p:'p=0.027', high:m0High, highC:m0HighCens, low:m0Low, lowC:m0LowCens},
 {id:'m1', title:'Macrophages M1', p:'p=0.040', high:m1High, highC:m1HighCens, low:m1Low, lowC:m1LowCens},
 {id:'m2', title:'Macrophages M2', p:'p<0.001', high:m2High, highC:m2HighCens, low:m2Low, lowC:m2LowCens},
 {id:'nk', title:'NK cells activated', p:'p=0.024', high:nkHigh, highC:nkHighCens, low:nkLow, lowC:nkLowCens},
 {id:'plasma', title:'Plasma cells', p:'p<0.001', high:plasmaHigh, highC:plasmaHighCens, low:plasmaLow, lowC:plasmaLowCens},
 {id:'cd4', title:'T cells CD4 memory resting', p:'p=0.009', high:cd4High, highC:cd4HighCens, low:cd4Low, lowC:cd4LowCens},
 {id:'cd8', title:'T cells CD8', p:'p=0.023', high:cd8High, highC:cd8HighCens, low:cd8Low, lowC:cd8LowCens},
 {id:'apc', title:'APC_co_inhibition', p:'p=0.012', high:apcHigh, highC:apcHighCens, low:apcLow, lowC:apcLowCens},
 {id:'cyto', title:'Cytolytic_activity', p:'p=0.007', high:cytoHigh, highC:cytoHighCens, low:cytoLow, lowC:cytoLowCens},
 {id:'infl', title:'Inflammation-promoting', p:'p=0.016', high:inflHigh, highC:inflHighCens, low:inflLow, lowC:inflLowCens},
 {id:'tcoinh', title:'T_cell_co-inhibition', p:'p=0.028', high:tcoinhHigh, highC:tcoinhHighCens, low:tcoinhLow, lowC:tcoinhLowCens},
 {id:'tcostim', title:'T_cell_co-stimulation', p:'p=0.005', high:tcostimHigh, highC:tcostimHighCens, low:tcostimLow, lowC:tcostimLowCens},
 {id:'type2', title:'Type_II_IFN_Reponse', p:'p=0.048', high:type2High, highC:type2HighCens, low:type2Low, lowC:type2LowCens}
];

// ================= LAYOUT (geometry only) =================
const kmLayout = {
 bMem:{x0:706,ppy:13.65,y1:70,y0:319,ty:31},
 bNaive:{x0:1152,ppy:13.68,y1:73,y0:322,ty:34},
 dcRest:{x0:1599,ppy:13.66,y1:70,y0:318,ty:32},
 m0:{x0:78,ppy:13.65,y1:508,y0:757,ty:469},
 m1:{x0:506,ppy:13.66,y1:509,y0:758,ty:470},
 m2:{x0:940,ppy:14.74,y1:486,y0:756,ty:443},
 nk:{x0:1401,ppy:14.7,y1:488,y0:758,ty:446},
 plasma:{x0:82,ppy:14.81,y1:888,y0:1158,ty:846,xmax:24.17},
 cd4:{x0:509,ppy:14.87,y1:887,y0:1157,ty:844,xmax:24.14},
 cd8:{x0:938,ppy:14.8,y1:885,y0:1155,ty:843},
 apc:{x0:714,ppy:14.9,y1:1308,y0:1578,ty:1266},
 cyto:{x0:1207,ppy:14.88,y1:1290,y0:1560,ty:1247},
 infl:{x0:83,ppy:14.8,y1:1758,y0:2028,ty:1716},
 tcoinh:{x0:579,ppy:14.78,y1:1758,y0:2028,ty:1716},
 tcostim:{x0:1056,ppy:14.75,y1:1756,y0:2026,ty:1713},
 type2:{x0:1533,ppy:14.75,y1:1757,y0:2027,ty:1714}
};

// ================= BUILD =================
const FONT = '"Liberation Sans", Arial, Helvetica, sans-serif';
const SERIF = '"Liberation Serif", "Times New Roman", serif';
const RED = '#EE1A1A', BLUE = '#1A1AEE';
const A_LOW = '#1F6FEA', A_HIGH = '#EE1111';
const C_LOW = '#1C1CDD', C_HIGH = '#EE2222';
const PLUS = 'path://M3.1,0H4.9V3.1H8V4.9H4.9V8H3.1V4.9H0V3.1H3.1Z';
const AXC = '#1a1a1a';

const grids = [], xAxes = [], yAxes = [], series = [], graphics = [];
const ctx = document.createElement('canvas').getContext('2d');
function tw(t, fs){ ctx.font = fs + 'px ' + FONT; return ctx.measureText(t).width; }
function txt(x, y, text, fs, opts){
  opts = opts || {};
  return {type:'text', x, y, z:50, silent:true, style:{text, fontSize:fs, fontFamily:opts.family||FONT, fontWeight:opts.weight||'normal', fill:opts.fill||'#222',
    align:opts.align||'left', verticalAlign:opts.va||'middle', textAlign:opts.align||'left', textVerticalAlign:opts.va||'middle'}};
}
function survAt(steps, t){ let s = steps[0][1]; for (const [x, y] of steps){ if (x <= t) s = y; else break; } return s; }
function medianOf(steps){ for (const [x, y] of steps){ if (y <= 0.5) return x; } return null; }

// ---- box panel helpers ----
function boxSeries(gi, stats, off, wf, fill, stroke, med, lw){
  return {type:'custom', xAxisIndex:gi, yAxisIndex:gi, silent:true, animation:false, z:3,
    data: stats.map((s, i) => [i, s[0], s[1], s[2], s[3], s[4]]),
    encode:{x:0, y:[1,2,3,4,5]},
    renderItem:(params, api) => {
      const c = api.value(0);
      const band = api.size([1, 0])[0];
      const cx = api.coord([c, 0])[0] + off * band;
      const w = wf * band;
      const Y = k => api.coord([c, api.value(k)])[1];
      const mn = Y(1), q1 = Y(2), md = Y(3), q3 = Y(4), mx = Y(5);
      return {type:'group', children:[
        {type:'line', shape:{x1:cx, y1:q3, x2:cx, y2:mx}, style:{stroke, lineWidth:lw}},
        {type:'line', shape:{x1:cx, y1:q1, x2:cx, y2:mn}, style:{stroke, lineWidth:lw}},
        {type:'rect', shape:{x:cx - w/2, y:q3, width:w, height:Math.max(q1 - q3, 0.6)}, style:{fill, stroke, lineWidth:lw}},
        {type:'line', shape:{x1:cx - w/2, y1:md, x2:cx + w/2, y2:md}, style:{stroke:med, lineWidth:2}}
      ]};
    }};
}
function outSeries(gi, outs, off, color, r){
  const data = [];
  outs.forEach((arr, i) => arr.forEach(v => data.push([i, v])));
  return {type:'custom', xAxisIndex:gi, yAxisIndex:gi, silent:true, animation:false, z:2,
    data, encode:{x:0, y:1},
    renderItem:(params, api) => {
      const c = api.value(0);
      const band = api.size([1, 0])[0];
      const p = api.coord([c, api.value(1)]);
      return {type:'circle', shape:{cx:p[0] + off * band, cy:p[1], r}, style:{fill:color}};
    }};
}
function sigSeries(gi, sig, level){
  return {type:'custom', xAxisIndex:gi, yAxisIndex:gi, silent:true, animation:false, z:4,
    data: sig.map((s, i) => [i, level]), encode:{x:0, y:1},
    renderItem:(params, api) => {
      const p = api.coord([api.value(0), api.value(1)]);
      return {type:'text', x:p[0], y:p[1], style:{text:sig[params.dataIndex], fontSize:11, fontFamily:FONT, fill:'#333',
        align:'center', verticalAlign:'middle', textAlign:'center', textVerticalAlign:'middle'}};
    }};
}
function catAxes(gi, cats, ymin, ymax, yticks, dec, yname, nameGap){
  xAxes.push({type:'category', gridIndex:gi, data:cats,
    axisLine:{onZero:false, lineStyle:{color:AXC, width:1.1}},
    axisTick:{show:true, alignWithLabel:true, length:3, lineStyle:{color:'#333'}},
    axisLabel:{interval:0, rotate:45, fontSize:13, color:'#333', margin:5, fontFamily:FONT},
    splitLine:{show:false}});
  yAxes.push({type:'value', gridIndex:gi, min:ymin, max:ymax,
    axisLine:{show:true, onZero:false, lineStyle:{color:AXC, width:1.1}},
    axisTick:{show:true, length:3, customValues:yticks, lineStyle:{color:'#333'}},
    axisLabel:{customValues:yticks, formatter:v => v.toFixed(dec), fontSize:13, color:'#333', margin:5, fontFamily:FONT},
    splitLine:{show:false},
    name:yname, nameLocation:'middle', nameGap, nameTextStyle:{fontSize:13, color:'#111', fontFamily:FONT}});
}

// ---- Panel A ----
grids.push({left:55.5, top:62, width:551, height:241});
catAxes(0, cellTypes, -0.039, 0.81, [0,0.2,0.4,0.6,0.8], 1, 'Fraction', 27);
series.push(outSeries(0, outA_low, -0.22, '#111', 2.7));
series.push(outSeries(0, outA_high, 0.22, '#111', 2.7));
series.push(boxSeries(0, boxA_low, -0.22, 0.44, A_LOW, '#111', '#111', 1));
series.push(boxSeries(0, boxA_high, 0.22, 0.44, A_HIGH, '#111', '#111', 1));
series.push(sigSeries(0, sigA, 0.787));

// ---- Panel C ----
grids.push({left:61.9, top:1293, width:543.75, height:267});
catAxes(1, funcTypes, -0.054, 1.054, [0,0.25,0.5,0.75,1], 2, 'Score', 33);
series.push(outSeries(1, outC_low, -0.2, C_LOW, 2.4));
series.push(outSeries(1, outC_high, 0.2, C_HIGH, 2.4));
series.push(boxSeries(1, boxC_low, -0.2, 0.4, '#fff', C_LOW, C_LOW, 1.3));
series.push(boxSeries(1, boxC_high, 0.2, 0.4, '#fff', C_HIGH, C_HIGH, 1.3));
series.push(sigSeries(1, sigC, 1.018));

// legends A and C
function boxLegend(y, xRisk, xI1, xL, xI2, xH, filled){
  graphics.push(txt(xRisk, y, 'Risk', 12.5));
  [[xI1, filled ? A_LOW : '#fff', filled ? '#111' : C_LOW], [xI2, filled ? A_HIGH : '#fff', filled ? '#111' : C_HIGH]].forEach(([x, f, s]) => {
    graphics.push({type:'line', z:50, shape:{x1:x + 6, y1:y - 8, x2:x + 6, y2:y + 8}, style:{stroke:s, lineWidth:1}});
    graphics.push({type:'rect', z:50, shape:{x:x, y:y - 5.5, width:12, height:11}, style:{fill:f, stroke:s, lineWidth:1.2}});
    graphics.push({type:'line', z:50, shape:{x1:x, y1:y, x2:x + 12, y2:y}, style:{stroke:s, lineWidth:1.5}});
  });
  graphics.push(txt(xL, y, 'low', 11));
  graphics.push(txt(xH, y, 'high', 11));
}
boxLegend(33, 270, 305, 325, 351, 371, true);
boxLegend(1266, 273, 308, 329, 354, 375, false);

// panel letters
graphics.push(txt(9, 21, 'A', 38, {family:SERIF, weight:'bold', fill:'#000'}));
graphics.push(txt(650, 21, 'B', 38, {family:SERIF, weight:'bold', fill:'#000'}));
graphics.push(txt(24, 1251, 'C', 38, {family:SERIF, weight:'bold', fill:'#000'}));
graphics.push(txt(648, 1251, 'D', 38, {family:SERIF, weight:'bold', fill:'#000'}));
// rule under Cytolytic panel
graphics.push({type:'line', z:50, shape:{x1:1137, y1:1616, x2:1600, y2:1616}, style:{stroke:'#555', lineWidth:1.5}});

// ---- KM panels ----
const kmGridIdx = [];
kmPlots.forEach(p => {
  const L = kmLayout[p.id];
  const h = L.y0 - L.y1;
  const xmax = L.xmax !== undefined ? L.xmax : 26.25;
  const big = L.ppy > 14;
  const gi = grids.length;
  kmGridIdx.push(gi);
  grids.push({left:L.x0 - 1.25 * L.ppy, top:L.y1 - 0.05 * h, width:(xmax + 1.25) * L.ppy, height:1.1 * h});
  const ticks = kmTicks.filter(t => t <= xmax);
  const shift = (12.5 - (xmax - 1.25) / 2) * L.ppy;
  xAxes.push({type:'value', gridIndex:gi, min:-1.25, max:xmax,
    axisLine:{onZero:false, lineStyle:{color:AXC, width:1.1}},
    axisTick:{show:true, length:3, customValues:ticks, lineStyle:{color:'#333'}},
    axisLabel:{customValues:ticks, fontSize:big ? 12.5 : 12, color:'#333', margin:4, fontFamily:FONT},
    splitLine:{show:false},
    name:'Time(years)', nameLocation:'middle', nameGap:big ? 19 : 18,
    nameTextStyle:{fontSize:big ? 15 : 14, color:'#111', fontFamily:FONT, padding:[0, 0, 0, Math.max(0, 2 * shift)]}});
  yAxes.push({type:'value', gridIndex:gi, min:-0.05, max:1.05,
    axisLine:{onZero:false, lineStyle:{color:AXC, width:1.1}},
    axisTick:{show:true, length:3, customValues:kmYTicks, lineStyle:{color:'#333'}},
    axisLabel:{customValues:kmYTicks, formatter:v => v.toFixed(2), fontSize:12, color:'#333', margin:6, fontFamily:FONT},
    splitLine:{show:false},
    name:'Survival probability', nameLocation:'middle', nameGap:big ? 36 : 34,
    nameTextStyle:{fontSize:big ? 15 : 14, color:'#111', fontFamily:FONT}});

  const meds = [medianOf(p.high), medianOf(p.low)].filter(m => m !== null);
  const ml = [];
  if (meds.length){
    ml.push([{coord:[0, 0.5]}, {coord:[Math.max(...meds), 0.5]}]);
    meds.forEach(m => ml.push([{coord:[m, 0.5]}, {coord:[m, 0]}]));
  }
  [['high', p.high, p.highC, RED], ['low', p.low, p.lowC, BLUE]].forEach(([nm, steps, cens, col], k) => {
    series.push({type:'line', name:nm, xAxisIndex:gi, yAxisIndex:gi, data:steps, step:'end', showSymbol:false, silent:true, animation:false,
      lineStyle:{color:col, width:2}, itemStyle:{color:col}, z:3 + k,
      markLine: k === 1 && ml.length ? {silent:true, animation:false, symbol:['none','none'], label:{show:false},
        lineStyle:{color:'#222', width:1.2, type:[4, 3]}, emphasis:{disabled:true}, data:ml} : undefined});
    series.push({type:'scatter', name:nm, xAxisIndex:gi, yAxisIndex:gi, silent:true, animation:false, z:3 + k,
      data:cens.map(t => [t, survAt(steps, t)]), symbol:PLUS, symbolSize:8, itemStyle:{color:col}});
  });

  // strata legend above the panel
  const fs = big ? 10.5 : 10;
  const gap = 6.5, ll = 14;
  const wT = tw(p.title, fs), wH = tw('high', fs), wL = tw('low', fs);
  const total = wT + gap + ll + gap + wH + gap * 1.4 + ll + gap + wL;
  let x = L.x0 + 12.5 * L.ppy - total / 2;
  const y = L.ty;
  graphics.push(txt(x, y, p.title, fs, {fill:'#222'}));
  x += wT + gap;
  [[RED, 'high', wH], [BLUE, 'low', wL]].forEach(([col, lab, w], k) => {
    graphics.push({type:'line', z:50, shape:{x1:x, y1:y, x2:x + ll, y2:y}, style:{stroke:col, lineWidth:2}});
    graphics.push({type:'line', z:50, shape:{x1:x + ll / 2, y1:y - 3.5, x2:x + ll / 2, y2:y + 3.5}, style:{stroke:col, lineWidth:1.6}});
    x += ll + gap;
    graphics.push(txt(x, y, lab, fs, {fill:'#222'}));
    x += w + gap * 1.4;
  });
  // clip labels beyond cut edge (cropped panels)
  if (L.xmax !== undefined){
    graphics.push({type:'rect', z:60, shape:{x:L.x0 + L.xmax * L.ppy, y:L.y0 + 0.05 * h + 2, width:9, height:16}, style:{fill:'#fff'}});
  }
});

const chart = echarts.init(document.getElementById('c'), null, {renderer:'canvas'});
chart.setOption({
  animation:false,
  backgroundColor:'#fff',
  textStyle:{fontFamily:FONT},
  grid:grids, xAxis:xAxes, yAxis:yAxes, series
});
// p-value labels positioned through each panel's scales
kmPlots.forEach((p, i) => {
  const L = kmLayout[p.id];
  const big = L.ppy > 14;
  const pt = chart.convertToPixel({gridIndex:kmGridIdx[i]}, [0.4, 0.2]);
  graphics.push(txt(pt[0], pt[1], p.p, big ? 18 : 17, {fill:'#111'}));
});
chart.setOption({graphic:graphics});
</script>
</body></html>
